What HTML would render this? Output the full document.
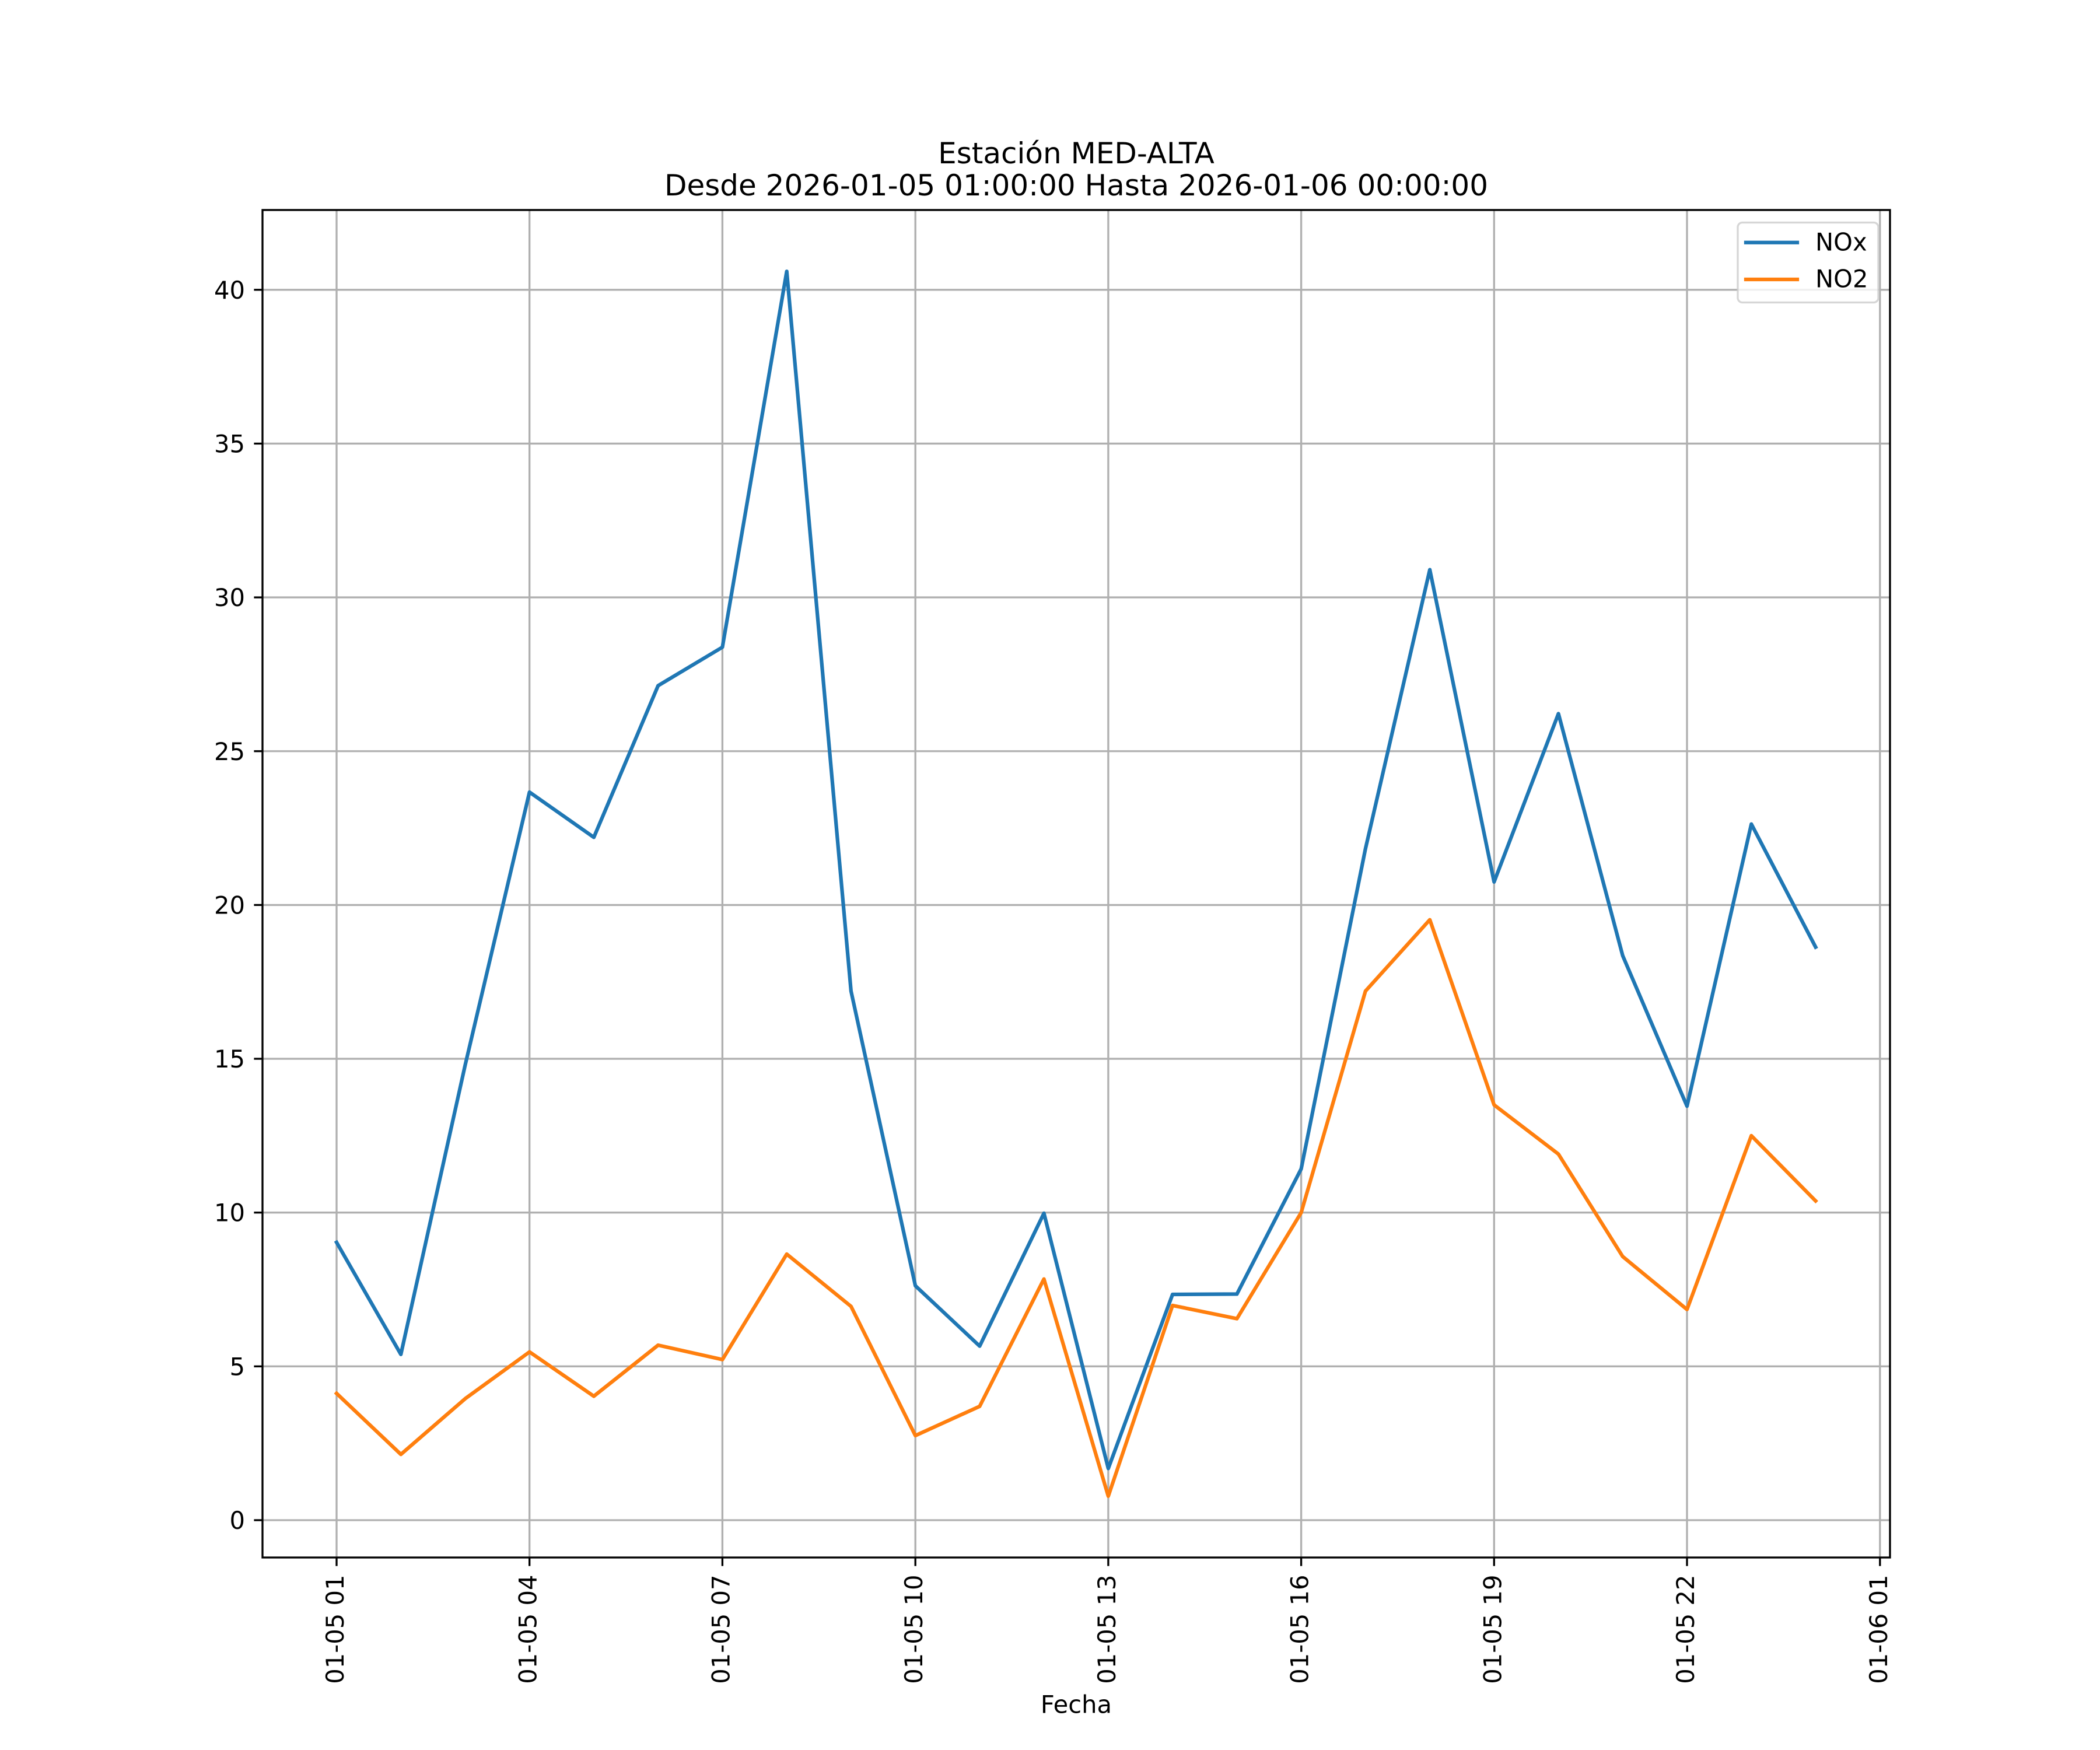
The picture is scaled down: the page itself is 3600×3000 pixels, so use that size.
<!DOCTYPE html>
<html>
<head>
<meta charset="utf-8">
<style>
html,body{margin:0;padding:0;background:#fff;}
svg{display:block;}
text{font-family:"DejaVu Sans","Liberation Sans",sans-serif;fill:#000;}
</style>
</head>
<body>
<svg xmlns="http://www.w3.org/2000/svg" width="3600" height="3000" viewBox="0 0 3600 3000">
<rect x="0" y="0" width="3600" height="3000" fill="#fff"/>
<rect x="450" y="360" width="2790" height="2310" fill="#fff"/>
<!-- grid -->
<g stroke="#b0b0b0" stroke-width="3.33" fill="none">
<line x1="577" y1="360" x2="577" y2="2670"/>
<line x1="907.7" y1="360" x2="907.7" y2="2670"/>
<line x1="1238.4" y1="360" x2="1238.4" y2="2670"/>
<line x1="1569.2" y1="360" x2="1569.2" y2="2670"/>
<line x1="1899.9" y1="360" x2="1899.9" y2="2670"/>
<line x1="2230.6" y1="360" x2="2230.6" y2="2670"/>
<line x1="2561.3" y1="360" x2="2561.3" y2="2670"/>
<line x1="2892" y1="360" x2="2892" y2="2670"/>
<line x1="3222.8" y1="360" x2="3222.8" y2="2670"/>
<line x1="450" y1="2606" x2="3240" y2="2606"/>
<line x1="450" y1="2342.35" x2="3240" y2="2342.35"/>
<line x1="450" y1="2078.7" x2="3240" y2="2078.7"/>
<line x1="450" y1="1815.05" x2="3240" y2="1815.05"/>
<line x1="450" y1="1551.4" x2="3240" y2="1551.4"/>
<line x1="450" y1="1287.75" x2="3240" y2="1287.75"/>
<line x1="450" y1="1024.1" x2="3240" y2="1024.1"/>
<line x1="450" y1="760.45" x2="3240" y2="760.45"/>
<line x1="450" y1="496.8" x2="3240" y2="496.8"/>
</g>
<!-- series -->
<polyline fill="none" stroke="#1f77b4" stroke-width="6.25" stroke-linejoin="round" stroke-linecap="square"
points="577,2129.8 687.2,2321.8 797.5,1825.6 907.7,1357.9 1018,1435.4 1128.2,1175.4 1238.4,1109.5 1348.7,465.2 1458.9,1699 1569.2,2204.2 1679.4,2307.6 1789.6,2079.8 1899.9,2517.4 2010.1,2219 2120.4,2218.4 2230.6,2003.8 2340.8,1454.9 2451.1,976.6 2561.3,1511.9 2671.6,1223.4 2781.8,1638.4 2892,1896.3 3002.3,1412.7 3112.5,1623.6"/>
<polyline fill="none" stroke="#ff7f0e" stroke-width="6.25" stroke-linejoin="round" stroke-linecap="square"
points="577,2388.7 687.2,2493.2 797.5,2397.7 907.7,2317.6 1018,2393.5 1128.2,2306 1238.4,2330.7 1348.7,2149.9 1458.9,2239.5 1569.2,2461 1679.4,2410.9 1789.6,2192.6 1899.9,2564.9 2010.1,2237.9 2120.4,2260.6 2230.6,2078.7 2340.8,1699 2451.1,1576.7 2561.3,1894.1 2671.6,1978.5 2781.8,2154.1 2892,2244.8 3002.3,1946.9 3112.5,2058.7"/>
<!-- spines -->
<rect x="450" y="360" width="2790" height="2310" fill="none" stroke="#000" stroke-width="3.33" stroke-linejoin="miter"/>
<!-- ticks -->
<g stroke="#000" stroke-width="3.33">
<line x1="577" y1="2670" x2="577" y2="2684.6"/>
<line x1="907.7" y1="2670" x2="907.7" y2="2684.6"/>
<line x1="1238.4" y1="2670" x2="1238.4" y2="2684.6"/>
<line x1="1569.2" y1="2670" x2="1569.2" y2="2684.6"/>
<line x1="1899.9" y1="2670" x2="1899.9" y2="2684.6"/>
<line x1="2230.6" y1="2670" x2="2230.6" y2="2684.6"/>
<line x1="2561.3" y1="2670" x2="2561.3" y2="2684.6"/>
<line x1="2892" y1="2670" x2="2892" y2="2684.6"/>
<line x1="3222.8" y1="2670" x2="3222.8" y2="2684.6"/>
<line x1="435.4" y1="2606" x2="450" y2="2606"/>
<line x1="435.4" y1="2342.35" x2="450" y2="2342.35"/>
<line x1="435.4" y1="2078.7" x2="450" y2="2078.7"/>
<line x1="435.4" y1="1815.05" x2="450" y2="1815.05"/>
<line x1="435.4" y1="1551.4" x2="450" y2="1551.4"/>
<line x1="435.4" y1="1287.75" x2="450" y2="1287.75"/>
<line x1="435.4" y1="1024.1" x2="450" y2="1024.1"/>
<line x1="435.4" y1="760.45" x2="450" y2="760.45"/>
<line x1="435.4" y1="496.8" x2="450" y2="496.8"/>
</g>
<!-- y tick labels -->
<g font-size="41.67" text-anchor="end">
<text x="420" y="2621">0</text>
<text x="420" y="2357.35">5</text>
<text x="420" y="2093.7">10</text>
<text x="420" y="1830.05">15</text>
<text x="420" y="1566.4">20</text>
<text x="420" y="1302.75">25</text>
<text x="420" y="1039.1">30</text>
<text x="420" y="775.45">35</text>
<text x="420" y="511.8">40</text>
</g>
<!-- x tick labels -->
<g font-size="41.67" text-anchor="end">
<text transform="translate(589,2699.5) rotate(-90)">01-05 01</text>
<text transform="translate(919.7,2699.5) rotate(-90)">01-05 04</text>
<text transform="translate(1250.4,2699.5) rotate(-90)">01-05 07</text>
<text transform="translate(1581.2,2699.5) rotate(-90)">01-05 10</text>
<text transform="translate(1911.9,2699.5) rotate(-90)">01-05 13</text>
<text transform="translate(2242.6,2699.5) rotate(-90)">01-05 16</text>
<text transform="translate(2573.3,2699.5) rotate(-90)">01-05 19</text>
<text transform="translate(2904,2699.5) rotate(-90)">01-05 22</text>
<text transform="translate(3234.8,2699.5) rotate(-90)">01-06 01</text>
</g>
<!-- axis label -->
<text x="1845" y="2936.5" font-size="41.67" text-anchor="middle">Fecha</text>
<!-- title -->
<text x="1845" y="280" font-size="50" text-anchor="middle">Estación MED-ALTA</text>
<text x="1845" y="335" font-size="50" text-anchor="middle">Desde 2026-01-05 01:00:00 Hasta 2026-01-06 00:00:00</text>
<!-- legend -->
<rect x="2979" y="381.5" width="241" height="137" rx="8" ry="8" fill="#fff" fill-opacity="0.8" stroke="#cccccc" stroke-opacity="0.8" stroke-width="3.33"/>
<line x1="2993" y1="415.7" x2="3081" y2="415.7" stroke="#1f77b4" stroke-width="6.25" stroke-linecap="square"/>
<line x1="2993" y1="479" x2="3081" y2="479" stroke="#ff7f0e" stroke-width="6.25" stroke-linecap="square"/>
<text x="3112" y="429.5" font-size="41.67">NOx</text>
<text x="3112" y="492.7" font-size="41.67">NO2</text>
</svg>
</body>
</html>
